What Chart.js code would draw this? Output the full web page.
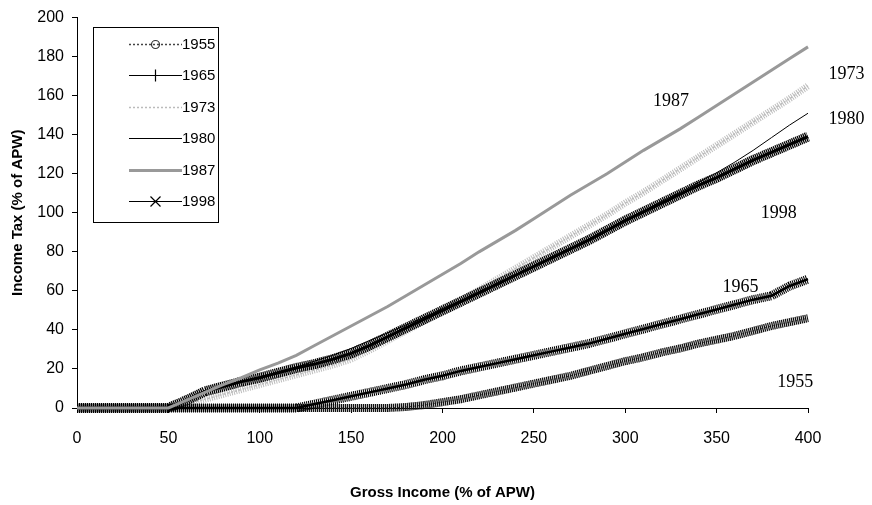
<!DOCTYPE html>
<html lang="en">
  <head>
    <meta charset="UTF-8">
    <title>Income Tax by Gross Income</title>
    <script src="https://cdn.jsdelivr.net/npm/chart.js"></script>
    <style>
      html, body { margin: 0; padding: 0; background: #fff; }
      #wrap { width: 872px; height: 505px; }
    </style>
  </head>
  <body>
    <div id="wrap"><canvas id="taxChart" width="872" height="505"></canvas></div>
    <script>
      // gross income, % of APW (one reading every 10 points)
      const incomeX = [0, 10, 20, 30, 40, 50, 60, 70, 80, 90, 100, 110, 120, 130, 140, 150, 160, 170, 180, 190, 200,
        210, 220, 230, 240, 250, 260, 270, 280, 290, 300, 310, 320, 330, 340, 350, 360, 370, 380, 390, 400];
      const xTicks = [0, 50, 100, 150, 200, 250, 300, 350, 400];
      const yTicks = [0, 20, 40, 60, 80, 100, 120, 140, 160, 180, 200];

      // income tax, % of APW
      const tax1955 = [0, 0, 0, 0, 0, 0, 0, 0, 0, 0, 0, 0, 0, 0, 0, 0, 0, 0,
        0.5, 1.5, 3, 4.5, 6.5, 8.5, 10.5, 12.5, 14.5, 16.5, 19, 21.5, 24, 26, 28.5, 30.5, 33, 35, 37, 39.5, 42, 44, 46];
      const tax1965 = [0, 0, 0, 0, 0, 0, 0, 0, 0, 0, 0, 0, 0,
        2, 4, 6, 8, 10, 12, 14.5, 16.5, 19, 21, 23, 25, 27, 29, 31, 33, 35.5, 38, 40.5, 43, 45.5, 48, 50.5, 53, 55.5, 57.5, 62.5, 66];
      const tax1973 = [0, 0, 0, 0, 0, 0,
        2, 4.5, 7, 9.5, 12, 14.5, 17, 19.5, 22, 25, 29.5, 34.5, 39.5, 44.5, 50, 55, 60.5, 66, 71.5, 77, 82.5, 88, 93.5, 99,
        105, 110.5, 116.5, 122.5, 128.5, 134.5, 140.5, 146.5, 152.5, 158.5, 165];
      const tax1980 = [0, 0, 0, 0, 0, 0,
        4, 8, 11, 13.5, 16, 18.5, 21, 24, 27, 30.5, 34.5, 38.5, 42.5, 46.5, 51, 55, 59.5, 64, 68.5, 73, 77.5, 82, 86.5, 91.5,
        96.5, 101, 106, 110.5, 115.5, 120.5, 126, 132, 138.5, 145, 151];
      const tax1987 = [0, 0, 0, 0, 0, 0,
        4, 8, 12, 15.5, 19.5, 23, 27, 32, 37, 42, 47, 52, 57.5, 63, 68.5, 74, 80, 85.5, 91, 97, 103, 109, 114.5, 120,
        126, 132, 137.5, 143, 149, 155, 161, 167, 173, 179, 185];
      const tax1998 = [0, 0, 0, 0, 0, 0,
        4, 8.5, 11, 13.5, 15.5, 18, 20.5, 22.5, 25, 28, 32, 36.5, 41, 45.5, 50, 54.5, 59, 63.5, 68, 72.5, 77, 81.5, 86, 91,
        96, 100.5, 105, 109.5, 114, 118, 122.5, 127, 131, 135, 139];

      const seriesNames = ['1955', '1965', '1973', '1980', '1987', '1998'];
      const seriesValues = [tax1955, tax1965, tax1973, tax1980, tax1987, tax1998];

      const sans = 'Liberation Sans, Arial, Helvetica, sans-serif';
      const serif = 'Liberation Serif, Times New Roman, serif';

      function toPoints(values) {
        return incomeX.map((x, i) => ({ x: x, y: values[i] }));
      }

      // line style per series, plus a hatched band that stands in for the dense markers
      const lineStyles = {
        '1955': { color: '#444', width: 1, dash: [2, 2] },
        '1965': { color: '#000', width: 2.5, dash: [] },
        '1973': { color: '#bbb', width: 1.5, dash: [2, 2] },
        '1980': { color: '#000', width: 1, dash: [] },
        '1987': { color: '#999', width: 3, dash: [] },
        '1998': { color: '#000', width: 3, dash: [] }
      };
      const bandStyles = {
        '1955': { color: '#111', width: 8, dash: [1.3, 0.7], order: 6 },
        '1965': { color: '#000', width: 9, dash: [1.1, 0.9], order: 5 },
        '1973': { color: '#bdbdbd', width: 7, dash: [1, 1.3], order: 9 },
        '1998': { color: '#000', width: 10, dash: [1.3, 0.7], order: 3 }
      };
      const lineOrder = { '1955': 7, '1965': 4, '1973': 8, '1980': 2, '1987': 1, '1998': 3 };

      const datasets = [];
      seriesNames.forEach((name, i) => {
        const ls = lineStyles[name];
        datasets.push({
          label: name,
          data: toPoints(seriesValues[i]),
          borderColor: ls.color,
          borderWidth: ls.width,
          borderDash: ls.dash,
          pointRadius: 0,
          tension: 0,
          clip: false,
          order: lineOrder[name]
        });
        const bs = bandStyles[name];
        if (bs) {
          datasets.push({
            label: name + ' markers',
            data: toPoints(seriesValues[i]),
            borderColor: bs.color,
            borderWidth: bs.width,
            borderDash: bs.dash,
            borderCapStyle: 'butt',
            pointRadius: 0,
            tension: 0,
            clip: false,
            order: bs.order
          });
        }
      });

      // year labels written next to the curves (in data units)
      const curveNotes = [
        { text: '1987', x: 325, y: 157 },
        { text: '1973', x: 421, y: 171 },
        { text: '1980', x: 421, y: 148 },
        { text: '1998', x: 384, y: 100 },
        { text: '1965', x: 363, y: 62 },
        { text: '1955', x: 393, y: 13 }
      ];

      const notesPlugin = {
        id: 'curveNotes',
        afterDatasetsDraw(chart) {
          const ctx = chart.ctx;
          const xs = chart.scales.x, ys = chart.scales.y;
          ctx.save();
          ctx.font = '18px ' + serif;
          ctx.fillStyle = '#000';
          ctx.textAlign = 'center';
          ctx.textBaseline = 'middle';
          curveNotes.forEach(n => ctx.fillText(n.text, xs.getPixelForValue(n.x), ys.getPixelForValue(n.y)));
          ctx.restore();
        }
      };

      function drawMarker(ctx, kind, x, y) {
        ctx.beginPath();
        if (kind === 'circle') {
          ctx.arc(x, y, 4, 0, Math.PI * 2);
        } else if (kind === 'cross') {
          ctx.moveTo(x, y - 6); ctx.lineTo(x, y + 6);
          ctx.moveTo(x - 6, y); ctx.lineTo(x + 6, y);
        } else if (kind === 'crossRot') {
          ctx.moveTo(x - 5, y - 5); ctx.lineTo(x + 5, y + 5);
          ctx.moveTo(x - 5, y + 5); ctx.lineTo(x + 5, y - 5);
        }
        ctx.stroke();
      }

      const markerKinds = { '1955': 'circle', '1965': 'cross', '1998': 'crossRot' };

      const legendPlugin = {
        id: 'boxLegend',
        afterDraw(chart) {
          const ctx = chart.ctx;
          const box = { left: 93, top: 27, width: 125, height: 195 };
          ctx.save();
          ctx.fillStyle = '#fff';
          ctx.fillRect(box.left, box.top, box.width, box.height);
          ctx.strokeStyle = '#000';
          ctx.lineWidth = 1;
          ctx.strokeRect(box.left + 0.5, box.top + 0.5, box.width, box.height);
          ctx.font = '15px ' + sans;
          ctx.textBaseline = 'middle';
          seriesNames.forEach((name, i) => {
            const y = Math.round(box.top + 17 + i * 31.4) + 0.5;
            const ls = lineStyles[name];
            ctx.strokeStyle = ls.color;
            ctx.lineWidth = name === '1955' || name === '1973' ? 1.5 : ls.width === 3 && name !== '1987' ? 1.2 : ls.width === 2.5 ? 1.2 : ls.width;
            ctx.setLineDash(ls.dash);
            ctx.beginPath();
            ctx.moveTo(129, y);
            ctx.lineTo(182, y);
            ctx.stroke();
            ctx.setLineDash([]);
            if (markerKinds[name]) {
              ctx.strokeStyle = name === '1955' ? '#333' : '#000';
              ctx.lineWidth = 1.2;
              drawMarker(ctx, markerKinds[name], 155.5, y);
            }
            ctx.fillStyle = '#000';
            ctx.fillText(name, 182, y);
          });
          ctx.restore();
        }
      };

      new Chart(document.getElementById('taxChart'), {
        type: 'line',
        data: { datasets: datasets },
        options: {
          responsive: false,
          animation: false,
          layout: { padding: { top: 16, right: 64, left: 0, bottom: 0 } },
          plugins: {
            legend: { display: false },
            tooltip: { enabled: false }
          },
          scales: {
            x: {
              type: 'linear',
              min: 0,
              max: 400,
              afterFit(scale) { scale.height = 97; },
              afterBuildTicks(scale) { scale.ticks = xTicks.map(v => ({ value: v })); },
              ticks: { color: '#000', font: { family: sans, size: 16 }, padding: 16, maxRotation: 0 },
              grid: { display: true, drawOnChartArea: false, drawTicks: true, tickLength: 5, color: '#000' },
              border: { color: '#000', width: 1 },
              title: {
                display: true,
                text: 'Gross Income (% of APW)',
                color: '#000',
                font: { family: sans, size: 15, weight: 'bold' },
                padding: { top: 4, bottom: 3 }
              }
            },
            y: {
              min: 0,
              max: 200,
              afterFit(scale) { scale.width = 77; },
              afterBuildTicks(scale) { scale.ticks = yTicks.map(v => ({ value: v })); },
              ticks: { color: '#000', font: { family: sans, size: 16 }, padding: 8 },
              grid: { display: true, drawOnChartArea: false, drawTicks: true, tickLength: 5, color: '#000' },
              border: { color: '#000', width: 1 },
              title: {
                display: true,
                text: 'Income Tax (% of APW)',
                color: '#000',
                font: { family: sans, size: 15, weight: 'bold' },
                padding: { top: 9, bottom: 4 }
              }
            }
          }
        },
        plugins: [notesPlugin, legendPlugin]
      });
    </script>
  </body>
</html>
